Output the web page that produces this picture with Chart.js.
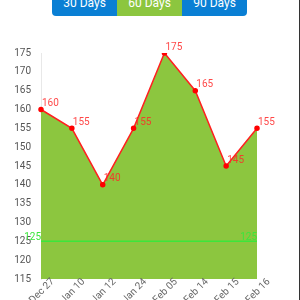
<!DOCTYPE html>
<html>
<head>
<meta charset="utf-8">
<script src="https://cdn.jsdelivr.net/npm/chart.js@4/dist/chart.umd.min.js"></script>
<style>
  body { margin: 0; width: 300px; height: 300px; overflow: hidden; background: #fff; font-family: Roboto, sans-serif; position: relative; }
  .botones { position: absolute; top: -10px; left: 52px; width: 195px; height: 26px; display: flex; border-radius: 0 0 4px 4px; overflow: hidden; z-index: 2; }
  .botones div { flex: 1; color: #fff; font-size: 12px; line-height: 26px; text-align: center; background: #0a7fd4; }
  .botones .activo { background: #8cc63f; }
  .borde { position: absolute; right: 0; top: 0; width: 1px; height: 300px; background: #333; }
  #myChart { position: absolute; top: 0; left: 0; }
</style>
</head>
<body>
<div class="botones"><div>30 Days</div><div class="activo">60 Days</div><div>90 Days</div></div>
<canvas id="myChart" width="300" height="300"></canvas>
<div class="borde"></div>
<script>
const labels = ['Dec 27', 'Jan 10', 'Jan 12', 'Jan 24', 'Feb 05', 'Feb 14', 'Feb 15', 'Feb 16'];
const valores = [160, 155, 140, 155, 175, 165, 145, 155];
const limite = 125;

// etiquetas de valor, linea de limite y fechas giradas
const extras = {
  id: 'extras',
  afterDatasetsDraw(chart) {
    const ctx = chart.ctx;
    const area = chart.chartArea;
    const y = chart.scales.y.getPixelForValue(limite);
    ctx.save();
    ctx.strokeStyle = '#3be63b';
    ctx.lineWidth = 1.5;
    ctx.beginPath();
    ctx.moveTo(area.left, y);
    ctx.lineTo(area.right, y);
    ctx.stroke();
    ctx.fillStyle = '#3be63b';
    ctx.font = '10px Roboto';
    ctx.textAlign = 'right';
    ctx.textBaseline = 'bottom';
    ctx.fillText(String(limite), area.left, y + 1);
    ctx.fillText(String(limite), area.right, y + 1);

    ctx.fillStyle = 'rgba(255,40,40,0.85)';
    ctx.textAlign = 'left';
    ctx.textBaseline = 'bottom';
    chart.getDatasetMeta(0).data.forEach((p, i) => {
      ctx.fillText(String(valores[i]), p.x + 1, p.y - 1);
    });

    // fechas del eje x, centradas bajo cada punto
    const xs = chart.scales.x;
    ctx.fillStyle = '#666';
    ctx.font = '10px Roboto';
    ctx.textAlign = 'center';
    ctx.textBaseline = 'middle';
    labels.forEach((lab, i) => {
      ctx.save();
      ctx.translate(xs.getPixelForValue(i) + 1, area.bottom + 12);
      ctx.rotate(-Math.PI / 4);
      ctx.fillText(lab, 0, 0);
      ctx.restore();
    });
    ctx.restore();
  }
};

const config = {
  type: 'line',
  data: {
    labels: labels,
    datasets: [{
      data: valores,
      borderColor: '#ff2020',
      borderWidth: 1.5,
      backgroundColor: '#8cc63f',
      fill: 'start',
      tension: 0,
      pointRadius: 2,
      pointBackgroundColor: '#ff0000',
      pointBorderColor: '#ff0000'
    }]
  },
  options: {
    responsive: false,
    animation: false,
    layout: { padding: { top: 53, right: 43, left: 0, bottom: 0 } },
    plugins: { legend: { display: false }, tooltip: { enabled: false } },
    scales: {
      x: {
        grid: { display: false },
        border: { display: false },
        ticks: { display: false },
        afterFit(scale) { scale.height = 21; }
      },
      y: {
        min: 115,
        max: 175,
        grid: { display: false },
        border: { display: true, color: '#e8e8e8' },
        ticks: { stepSize: 5, color: '#555', font: { size: 10, family: 'Roboto' }, padding: 2 },
        afterFit(scale) { scale.width = 41; }
      }
    }
  },
  plugins: [extras]
};

const chart = new Chart(document.getElementById('myChart'), config);
</script>
</body>
</html>
